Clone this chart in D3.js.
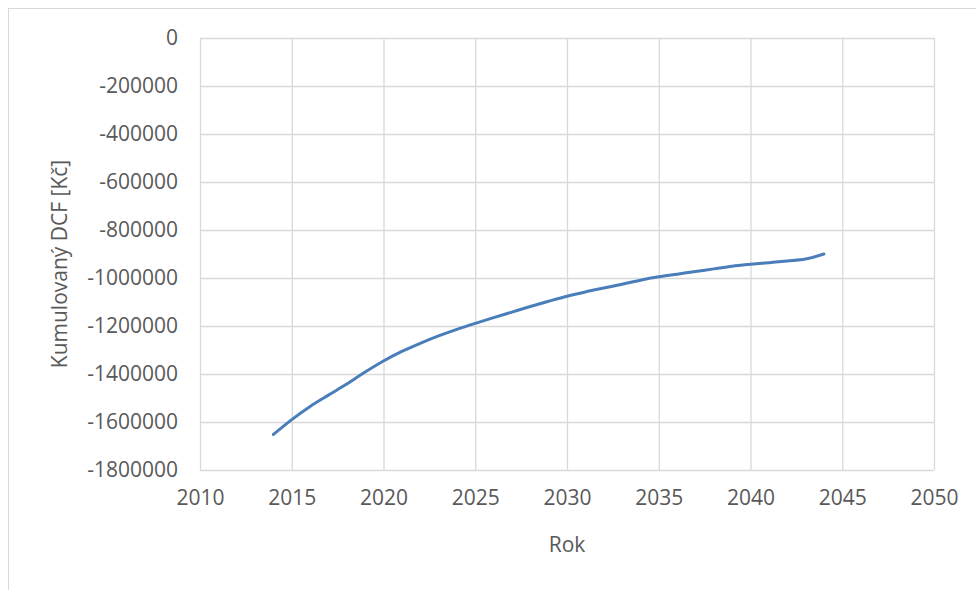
<!DOCTYPE html>
<html>
<head>
<meta charset="utf-8">
<script src="https://cdn.jsdelivr.net/npm/d3@7"></script>
<style>
  body { margin: 0; background: #fff; }
  .axis text { font-family: "Open Sans", sans-serif; font-size: 21px; fill: #595959; }
  .axis line, .axis path { stroke: #d9d9d9; stroke-width: 1.3; }
  .title { font-family: "Open Sans", sans-serif; font-size: 21px; fill: #595959; }
</style>
</head>
<body>
<div id="chart"></div>
<script>
const years = [2014, 2015, 2016, 2017, 2018, 2019, 2020, 2021, 2022, 2023, 2024, 2025, 2026, 2027, 2028, 2029,
  2030, 2031, 2032, 2033, 2034, 2035, 2036, 2037, 2038, 2039, 2040, 2041, 2042, 2043, 2044]
const dcf = [-1652000, -1590000, -1535000, -1488000, -1442000, -1392000, -1346000, -1306000, -1272000, -1241000,
  -1214000, -1189000, -1165000, -1142000, -1119000, -1097000, -1076000, -1058000, -1042000, -1026000,
  -1009000, -995000, -984000, -973000, -962000, -951000, -943000, -936000, -929000, -921000, -900000]
const xTicks = [2010, 2015, 2020, 2025, 2030, 2035, 2040, 2045, 2050]
const yTicks = [0, -200000, -400000, -600000, -800000, -1000000, -1200000, -1400000, -1600000, -1800000]

const dms = {
  width: 976,
  height: 590,
  margin: { top: 38, right: 42, bottom: 120, left: 200 }
}
dms.contentWidth = dms.width - dms.margin.left - dms.margin.right
dms.contentHeight = dms.height - dms.margin.top - dms.margin.bottom

const svg = d3.select('#chart').append('svg')
  .attr('width', dms.width)
  .attr('height', dms.height)

// outer chart frame
svg.append('rect')
  .attr('x', 8.5)
  .attr('y', 8.5)
  .attr('width', dms.width + 20)
  .attr('height', dms.height + 20)
  .attr('fill', 'none')
  .attr('stroke', '#d9d9d9')

const content = svg.append('g')
  .attr('transform', `translate(${dms.margin.left},${dms.margin.top})`)

const xScale = d3.scaleLinear()
  .domain([2010, 2050])
  .range([0, dms.contentWidth])

const yScale = d3.scaleLinear()
  .domain([-1800000, 0])
  .range([dms.contentHeight, 0])

const xAxis = content.append('g')
  .attr('class', 'axis')
  .attr('transform', `translate(0,${dms.contentHeight})`)
  .call(d3.axisBottom(xScale).tickValues(xTicks).tickFormat(d3.format('d'))
    .tickSize(-dms.contentHeight).tickPadding(20))
xAxis.select('.domain').remove()

const yAxis = content.append('g')
  .attr('class', 'axis')
  .call(d3.axisLeft(yScale).tickValues(yTicks).tickFormat(d => String(d).replace('−', '-'))
    .tickSize(-dms.contentWidth).tickPadding(22))
yAxis.select('.domain').remove()

const line = d3.line()
  .x((d, i) => xScale(years[i]))
  .y(d => yScale(d))
  .curve(d3.curveMonotoneX)

content.append('path')
  .datum(dcf)
  .attr('fill', 'none')
  .attr('stroke', '#4a7ebb')
  .attr('stroke-width', 3)
  .attr('stroke-linecap', 'round')
  .attr('d', line)

svg.append('text')
  .attr('class', 'title')
  .attr('x', dms.margin.left + dms.contentWidth / 2)
  .attr('y', 552)
  .attr('text-anchor', 'middle')
  .text('Rok')

svg.append('text')
  .attr('class', 'title')
  .attr('transform', 'translate(67,264) rotate(-90)')
  .attr('text-anchor', 'middle')
  .text('Kumulovaný DCF [Kč]')
</script>
</body>
</html>
